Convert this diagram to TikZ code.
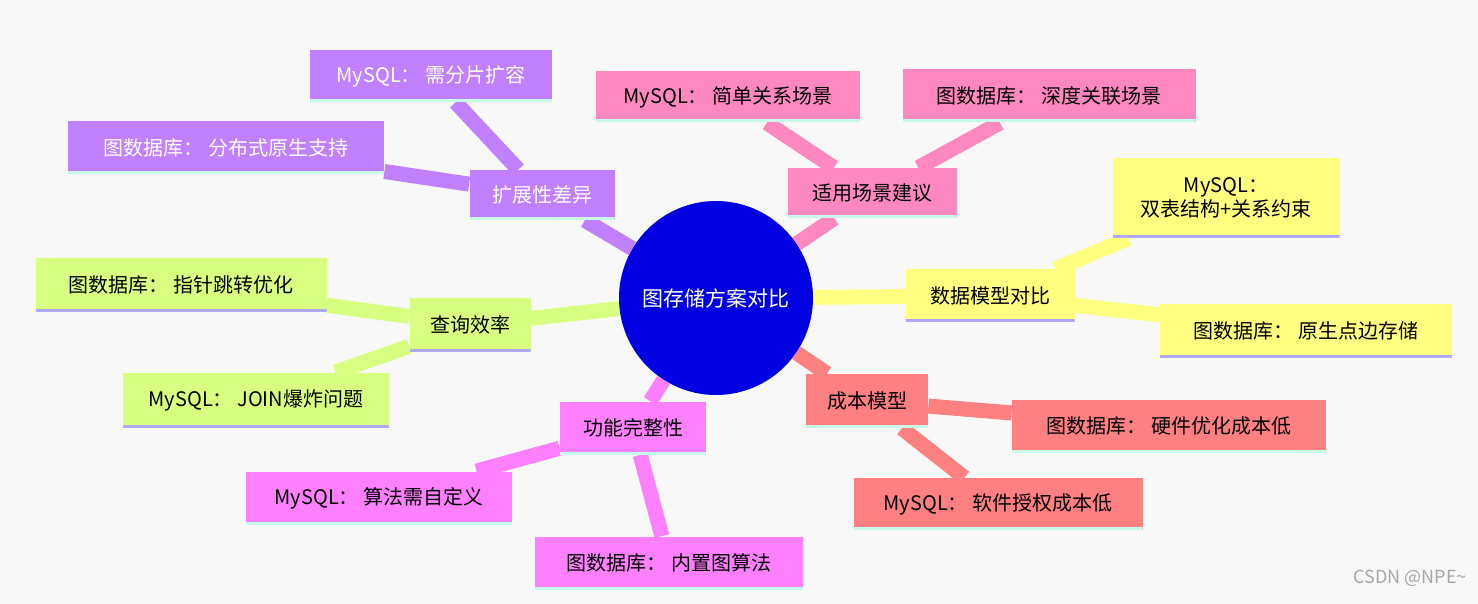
\documentclass[tikz,border=0pt]{standalone}
\usepackage{fontspec}
\setmainfont{Noto Sans CJK SC}
\usetikzlibrary{backgrounds}
\definecolor{bgc}{HTML}{F8F8F8}
\definecolor{cpur}{HTML}{C080FF}
\definecolor{cpink}{HTML}{FF88C0}
\definecolor{cyel}{HTML}{FFFF80}
\definecolor{csal}{HTML}{FF8080}
\definecolor{cmag}{HTML}{FF80FF}
\definecolor{cgrn}{HTML}{D8FF80}
\definecolor{ulc}{HTML}{C8F8E8}
\definecolor{ulp}{HTML}{B0A8F8}
\tikzset{
  box/.style args={#1/#2/#3}{fill=#1, text=#3, inner sep=0pt, minimum width=#2, font=\fontsize{10}{12}\selectfont, align=center},
  ul/.style={path picture={\fill[#1] ([yshift=1.5pt]path picture bounding box.south west) rectangle (path picture bounding box.south east);}},
  conn/.style={draw=#1, line width=7.5pt},
}
\begin{document}
\begin{tikzpicture}[x=0.5pt,y=-0.5pt]
\useasboundingbox (0,0) rectangle (1478,604);
% nodes
\node[circle, fill=blue!88!black, text=white, minimum size=97pt, inner sep=0pt, font=\fontsize{10.5}{12}\selectfont] (c) at (716,298) {图存储方案对比};
\node[box=cpur/72.5pt/white, minimum height=25pt, ul=ulc] (a) at (542,195) {扩展性差异};
\node[box=cpur/121pt/white, minimum height=26pt, ul=ulc] (a1) at (431,76) {MySQL： 需分片扩容};
\node[box=cpur/158pt/white, minimum height=26.5pt, ul=ulc] (a2) at (226,148) {图数据库： 分布式原生支持};
\node[box=cpink/84.5pt/black, minimum height=25pt, ul=ulc] (b) at (872,193) {适用场景建议};
\node[box=cpink/132pt/black, minimum height=25.5pt, ul=ulc] (b1) at (728,97) {MySQL： 简单关系场景};
\node[box=cpink/146.5pt/black, minimum height=26.5pt, ul=ulc] (b2) at (1049,96) {图数据库： 深度关联场景};
\node[box=cyel/84.5pt/black, minimum height=26.5pt, ul=ulp] (d) at (990,296) {数据模型对比};
\node[box=cyel/113.5pt/black, minimum height=40pt, ul=ulp] (d1) at (1226,198) {MySQL：\\双表结构+关系约束};
\node[box=cyel/146pt/black, minimum height=26.5pt, ul=ulp] (d2) at (1306,331) {图数据库： 原生点边存储};
\node[box=csal/61pt/black, minimum height=27pt, ul=ulc] (e) at (867,401) {成本模型};
\node[box=csal/157pt/black, minimum height=26.5pt, ul=ulc] (e1) at (1169,426) {图数据库： 硬件优化成本低};
\node[box=csal/144.5pt/black, minimum height=26pt, ul=ulc] (e2) at (998,504) {MySQL： 软件授权成本低};
\node[box=cmag/73pt/black, minimum height=26.5pt, ul=ulc] (f) at (633,428) {功能完整性};
\node[box=cmag/133pt/black, minimum height=26.5pt, ul=ulc] (f1) at (379,498) {MySQL： 算法需自定义};
\node[box=cmag/134pt/black, minimum height=26.5pt, ul=ulc] (f2) at (669,563) {图数据库： 内置图算法};
\node[box=cgrn/60.5pt/black, minimum height=27pt, ul=ulp] (g) at (470,325) {查询效率};
\node[box=cgrn/145.5pt/black, minimum height=27pt, ul=ulp] (g1) at (181,285) {图数据库： 指针跳转优化};
\node[box=cgrn/133pt/black, minimum height=27.5pt, ul=ulp] (g2) at (256,400) {MySQL： JOIN爆炸问题};
\node[text=black!35, font=\fontsize{9}{10}\selectfont, anchor=east] (wm) at (1474,578) {CSDN @NPE\textasciitilde};
\begin{scope}[on background layer]
\fill[bgc] (0,0) rectangle (1478,604);
\draw[conn=cpur] (c) -- (a); \draw[conn=cpur] (a) -- (a1); \draw[conn=cpur] (a) -- (a2);
\draw[conn=cpink] (c) -- (b); \draw[conn=cpink] (b) -- (b1); \draw[conn=cpink] (b) -- (b2);
\draw[conn=cyel] (c) -- (d); \draw[conn=cyel] (d) -- (d1); \draw[conn=cyel] (d) -- (d2);
\draw[conn=csal] (c) -- (e); \draw[conn=csal] (e) -- (e1); \draw[conn=csal] (e) -- (e2);
\draw[conn=cmag] (c) -- (f); \draw[conn=cmag] (f) -- (f1); \draw[conn=cmag] (f) -- (f2);
\draw[conn=cgrn] (c) -- (g); \draw[conn=cgrn] (g) -- (g1); \draw[conn=cgrn] (g) -- (g2);
\end{scope}
\end{tikzpicture}
\end{document}
